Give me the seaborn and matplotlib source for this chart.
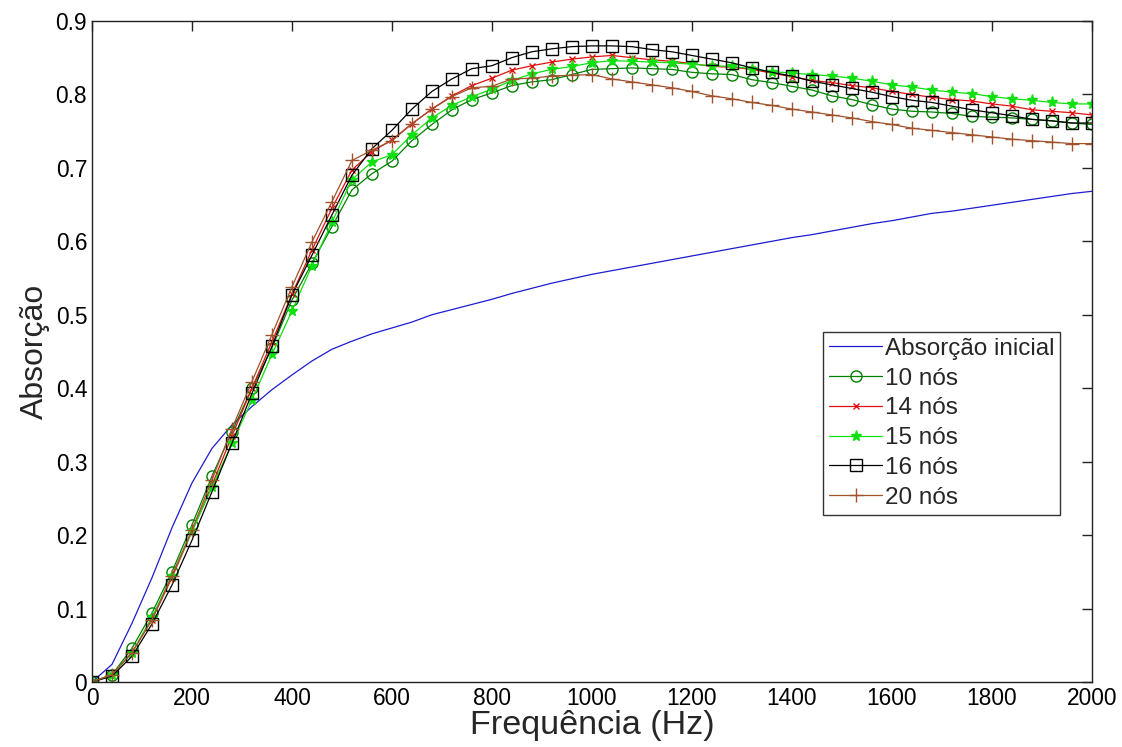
import numpy as np
import pandas as pd
import seaborn as sns
import matplotlib.pyplot as plt
from matplotlib import font_manager
from matplotlib.ticker import FuncFormatter

freq = list(range(0, 2001, 40))

absorcao_inicial = [
    0.000, 0.024, 0.080, 0.142, 0.210, 0.271, 0.318, 0.350, 0.375, 0.398,
    0.418, 0.437, 0.453, 0.464, 0.474, 0.482, 0.490, 0.500, 0.507, 0.514,
    0.521, 0.529, 0.536, 0.543, 0.549, 0.555, 0.560, 0.565, 0.570, 0.575,
    0.580, 0.585, 0.590, 0.595, 0.600, 0.605, 0.609, 0.614, 0.619, 0.624,
    0.628, 0.633, 0.638, 0.641, 0.645, 0.649, 0.653, 0.657, 0.661, 0.665,
    0.668,
]
nos_10 = [
    0.000, 0.010, 0.046, 0.094, 0.150, 0.214, 0.280, 0.341, 0.400, 0.455,
    0.520, 0.570, 0.620, 0.670, 0.692, 0.709, 0.737, 0.759, 0.779, 0.793,
    0.802, 0.812, 0.817, 0.820, 0.827, 0.834, 0.835, 0.836, 0.835, 0.834,
    0.830, 0.828, 0.827, 0.820, 0.816, 0.811, 0.806, 0.798, 0.793, 0.786,
    0.780, 0.777, 0.776, 0.774, 0.770, 0.769, 0.768, 0.766, 0.764, 0.761,
    0.759,
]
nos_14 = [
    0.000, 0.010, 0.040, 0.085, 0.142, 0.205, 0.268, 0.335, 0.400, 0.463,
    0.528, 0.588, 0.645, 0.697, 0.722, 0.738, 0.760, 0.780, 0.798, 0.812,
    0.822, 0.833, 0.839, 0.844, 0.848, 0.851, 0.853, 0.850, 0.847, 0.845,
    0.842, 0.838, 0.837, 0.834, 0.829, 0.824, 0.819, 0.816, 0.812, 0.809,
    0.804, 0.800, 0.796, 0.793, 0.791, 0.787, 0.784, 0.779, 0.777, 0.775,
    0.772,
]
nos_15 = [
    0.000, 0.010, 0.040, 0.088, 0.145, 0.205, 0.265, 0.325, 0.384, 0.446,
    0.505, 0.567, 0.626, 0.684, 0.708, 0.718, 0.745, 0.768, 0.785, 0.797,
    0.807, 0.819, 0.828, 0.834, 0.838, 0.843, 0.846, 0.845, 0.844, 0.843,
    0.841, 0.839, 0.838, 0.835, 0.831, 0.829, 0.827, 0.825, 0.822, 0.818,
    0.813, 0.810, 0.806, 0.803, 0.801, 0.797, 0.794, 0.792, 0.789, 0.787,
    0.787,
]
nos_16 = [
    0.000, 0.008, 0.035, 0.079, 0.132, 0.193, 0.259, 0.325, 0.393, 0.457,
    0.527, 0.581, 0.636, 0.690, 0.726, 0.751, 0.780, 0.804, 0.821, 0.835,
    0.839, 0.850, 0.858, 0.862, 0.865, 0.866, 0.866, 0.865, 0.861, 0.858,
    0.853, 0.848, 0.843, 0.836, 0.830, 0.825, 0.818, 0.813, 0.808, 0.803,
    0.797, 0.792, 0.789, 0.784, 0.779, 0.775, 0.771, 0.766, 0.764, 0.761,
    0.761,
]
nos_20 = [
    0.000, 0.010, 0.040, 0.085, 0.145, 0.207, 0.275, 0.345, 0.409, 0.473,
    0.538, 0.599, 0.654, 0.710, 0.724, 0.737, 0.760, 0.780, 0.797, 0.809,
    0.811, 0.821, 0.822, 0.825, 0.826, 0.827, 0.821, 0.817, 0.813, 0.809,
    0.804, 0.798, 0.794, 0.789, 0.785, 0.780, 0.776, 0.772, 0.768, 0.763,
    0.759, 0.754, 0.751, 0.748, 0.745, 0.742, 0.739, 0.737, 0.735, 0.733,
    0.733,
]

sns.set_style("white")
plt.rcParams["font.family"] = ["Liberation Sans", "DejaVu Sans"]

# narrow face for ticks / xlabel if it is installed
names = {f.name for f in font_manager.fontManager.ttflist}
narrow = "Liberation Sans Narrow" if "Liberation Sans Narrow" in names else "Liberation Sans"
narrow_scale = 1.0 if narrow == "Liberation Sans Narrow" else 0.82

fig = plt.figure(figsize=(11.22, 7.47), dpi=100)
ax = fig.add_axes([0.082, 0.087, 0.891, 0.885])

series = [
    ("Absorção inicial", absorcao_inicial, "#1c1cd0", None, 0, "none"),
    ("10 nós", nos_10, "#008000", "o", 8, "none"),
    ("14 nós", nos_14, "#e01010", "x", 5, "#e01010"),
    ("15 nós", nos_15, "#10e010", "*", 8, "#10e010"),
    ("16 nós", nos_16, "#000000", "s", 8.5, "none"),
    ("20 nós", nos_20, "#a0522d", "+", 10, "#a0522d"),
]

for name, vals, color, marker, ms, mfc in series:
    df = pd.DataFrame({"freq": freq, "abs": vals})
    sns.lineplot(
        data=df,
        x="freq",
        y="abs",
        color=color,
        linewidth=0.9,
        marker=marker,
        markersize=ms,
        markerfacecolor=mfc,
        markeredgecolor=color,
        markeredgewidth=1.0,
        label=name,
        ax=ax,
    )

ax.set_xlim(0, 2000)
ax.set_ylim(0, 0.9)
ax.set_xticks(np.arange(0, 2001, 200))
ax.set_yticks(np.arange(0, 0.91, 0.1))
ax.yaxis.set_major_formatter(FuncFormatter(lambda v, p: "0" if abs(v) < 1e-9 else f"{v:.1f}"))
ax.tick_params(direction="in", length=7, width=1, top=True, right=True,
               colors="#222222", labelcolor="black")
for lab in ax.get_xticklabels() + ax.get_yticklabels():
    lab.set_fontfamily(narrow)
    lab.set_fontsize(20 * narrow_scale)
for s in ax.spines.values():
    s.set_visible(True)
    s.set_color("#222222")
    s.set_linewidth(1)

ax.set_xlabel("Frequência (Hz)", fontsize=30 * narrow_scale, family=narrow, labelpad=0)
ax.set_ylabel("Absorção", fontsize=23, labelpad=4)

leg = ax.legend(
    loc="upper left",
    bbox_to_anchor=(0.731, 0.53),
    fontsize=17.5,
    frameon=True,
    fancybox=False,
    edgecolor="black",
    handlelength=2.2,
    handletextpad=0.1,
    borderpad=0.25,
    labelspacing=0.32,
    borderaxespad=0,
)
leg.get_frame().set_linewidth(1)

plt.savefig("out.png", dpi=100)
